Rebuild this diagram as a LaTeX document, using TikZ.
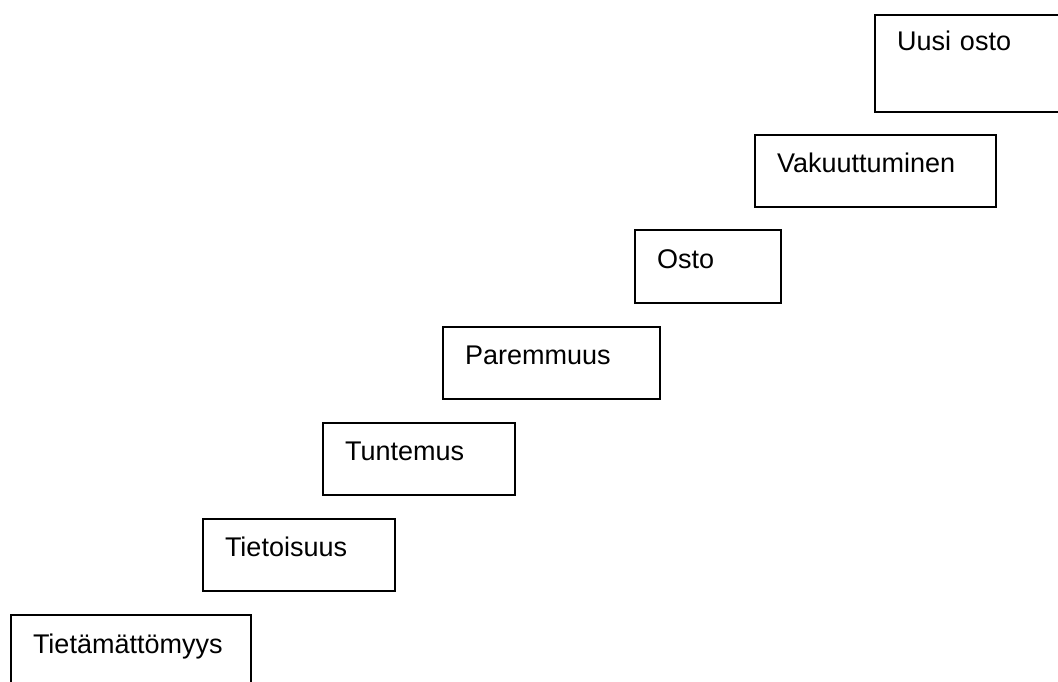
\documentclass[tikz,border=0pt]{standalone}
\usepackage{fontspec}
\setmainfont{Liberation Sans}

\begin{document}
\begin{tikzpicture}[x=1pt, y=-1pt, line width=1.6pt,
  stepbox/.style={draw, anchor=north west, align=left, outer sep=0pt,
    inner ysep=0pt, inner xsep=22pt, text height=37pt, text depth=35pt,
    font=\fontsize{27}{30}\selectfont}]

  \useasboundingbox (0,0) rectangle (1058,682);
  \clip (0,0) rectangle (1058,682);

  \node[stepbox, text width=196pt, text height=38pt] (tietamatt) at (11,615) {Tietämättömyys};
  \node[stepbox, text width=148pt] (tietoisuus) at (203,519) {Tietoisuus};
  \node[stepbox, text width=148pt] (tuntemus) at (323,423) {Tuntemus};
  \node[stepbox, text width=173pt] (paremmuus) at (443,327) {Paremmuus};
  \node[stepbox, text width=102pt, text height=38pt] (osto) at (635,230) {Osto};
  \node[stepbox, text width=197pt] (vakuutt) at (755,135) {Vakuuttuminen};
  \node[stepbox, text width=156pt, text height=36pt, text depth=61pt] (uusiosto) at (875,15) {Uusi osto};

\end{tikzpicture}
\end{document}
